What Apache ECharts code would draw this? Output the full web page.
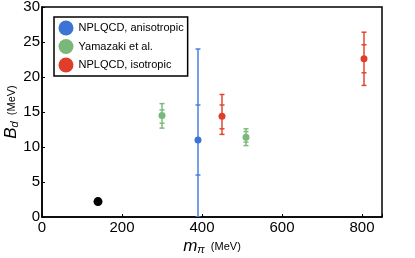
<!DOCTYPE html>
<html><head><meta charset="utf-8">
<script src="https://cdn.jsdelivr.net/npm/echarts@6/dist/echarts.min.js"></script>
<style>html,body{margin:0;padding:0;background:#fff}#c{width:415px;height:258px}</style>
</head><body><div id="c"></div>
<script>
// x (MeV), y (MeV), outer low, outer high, inner low, inner high
var aniso = [[390, 11.0, 0, 24.0, 6.0, 16.0]];
var yama = [[300, 14.5, 12.7, 16.2, 13.4, 15.3], [510, 11.4, 10.2, 12.6, 10.7, 12.2]];
var iso = [[450, 14.4, 11.8, 17.5, 12.6, 16.0], [805, 22.6, 18.8, 26.4, 20.6, 24.6]];
var physical = [[140, 2.2]];
var xTicks = [0, 200, 400, 600, 800];
var yTicks = [0, 5, 10, 15, 20, 25, 30];

var blue = '#3c74d6', green = '#7ab87a', red = '#e03d2a';
var font = 'Liberation Sans, Arial, Helvetica, sans-serif';

function errItem(params, api) {
  var x = api.value(0);
  var lo = api.coord([x, api.value(2)]), hi = api.coord([x, api.value(3)]);
  var ilo = api.coord([x, api.value(4)]), ihi = api.coord([x, api.value(5)]);
  var st = api.style({stroke: api.visual('color'), lineWidth: 1.5, fill: null});
  var w = 2.5;
  function cap(p) { return {type: 'line', shape: {x1: p[0] - w, y1: p[1], x2: p[0] + w, y2: p[1]}, style: st}; }
  return {type: 'group', children: [
    {type: 'line', shape: {x1: lo[0], y1: lo[1], x2: hi[0], y2: hi[1]}, style: st},
    cap(lo), cap(hi), cap(ilo), cap(ihi)
  ]};
}
function errSeries(data, color) {
  return {type: 'custom', renderItem: errItem, data: data, itemStyle: {color: color},
    encode: {x: 0, y: [1, 2, 3, 4, 5]}, z: 2, silent: true, clip: true};
}
function ptSeries(name, data, color, size) {
  return {type: 'scatter', name: name, data: data.map(function (d) { return [d[0], d[1]]; }),
    symbolSize: size, itemStyle: {color: color, opacity: 1}, z: 3};
}

var chart = echarts.init(document.getElementById('c'), null, {renderer: 'canvas'});
chart.setOption({
  animation: false,
  backgroundColor: '#fff',
  grid: {left: 42, right: 33, top: 7, bottom: 41, show: true, borderColor: '#000', borderWidth: 1.5,
    backgroundColor: 'transparent', containLabel: false, outerBoundsMode: 'none'},
  legend: {
    data: ['NPLQCD, anisotropic', 'Yamazaki et al.', 'NPLQCD, isotropic'],
    orient: 'vertical', left: 54, top: 17, padding: [3.5, 4, 3.5, 4.5],
    itemWidth: 15, itemHeight: 15, itemGap: 3.5, icon: 'circle',
    borderColor: '#000', borderWidth: 1.5, backgroundColor: '#fff',
    textStyle: {fontSize: 11, fontFamily: font, color: '#000'}
  },
  xAxis: {
    type: 'value', min: 0, max: 850, interval: 200,
    axisLine: {show: true, lineStyle: {color: '#000', width: 1.5}},
    axisTick: {show: true, inside: true, length: 3, lineStyle: {color: '#000'}},
    splitLine: {show: false},
    axisLabel: {fontSize: 15, fontFamily: font, color: '#000', margin: 3,
      formatter: function (v) { return xTicks.indexOf(v) >= 0 ? String(v) : ''; }},
    name: '{i|m}{s|π}{u|  (MeV)}', nameLocation: 'middle', nameGap: 21, nameMoveOverlap: false,
    nameTextStyle: {fontFamily: font, color: '#000', rich: {
      i: {fontSize: 17, fontStyle: 'italic', fontFamily: font, color: '#000'},
      s: {fontSize: 11, fontStyle: 'italic', fontFamily: font, color: '#000', padding: [6, 0, 0, 0]},
      u: {fontSize: 11, fontFamily: font, color: '#000'}
    }}
  },
  yAxis: {
    type: 'value', min: 0, max: 30, interval: 5,
    axisLine: {show: true, lineStyle: {color: '#000', width: 1.5}},
    axisTick: {show: true, inside: true, length: 3, lineStyle: {color: '#000'}},
    splitLine: {show: false},
    axisLabel: {fontSize: 15, fontFamily: font, color: '#000', margin: 2,
      formatter: function (v) { return yTicks.indexOf(v) >= 0 ? String(v) : ''; }},
    name: '{i|B}{s|d}{u|  (MeV)}', nameLocation: 'middle', nameGap: 22, nameMoveOverlap: false,
    nameTextStyle: {fontFamily: font, color: '#000', rich: {
      i: {fontSize: 17, fontStyle: 'italic', fontFamily: font, color: '#000'},
      s: {fontSize: 11, fontStyle: 'italic', fontFamily: font, color: '#000', padding: [6, 0, 0, 0]},
      u: {fontSize: 11, fontFamily: font, color: '#000'}
    }}
  },
  series: [
    errSeries(aniso, '#4a7fdc'),
    errSeries(yama, '#7dbb7d'),
    errSeries(iso, '#e2472f'),
    ptSeries('NPLQCD, anisotropic', aniso, blue, 7),
    ptSeries('Yamazaki et al.', yama, green, 7),
    ptSeries('NPLQCD, isotropic', iso, red, 7),
    {type: 'scatter', name: 'physical', data: physical, symbolSize: 9, itemStyle: {color: '#000', opacity: 1}, z: 3}
  ]
});
</script></body></html>
